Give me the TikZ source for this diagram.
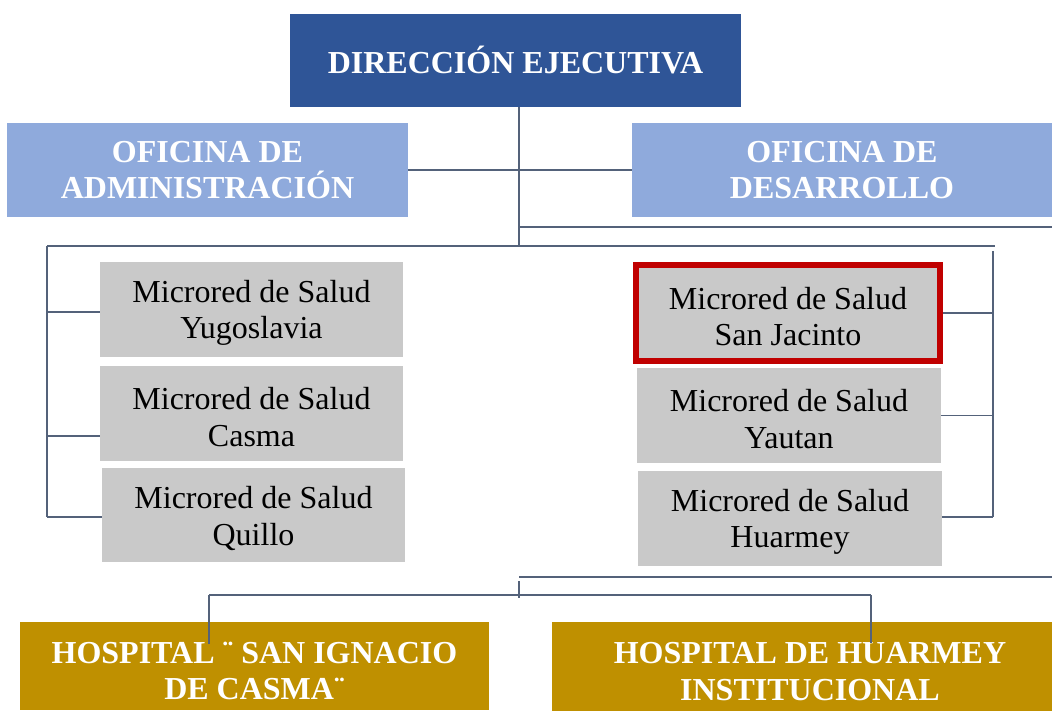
\documentclass[tikz,border=0pt]{standalone}
\usepackage{fontspec}
\setmainfont{Liberation Serif}
\definecolor{dirblue}{RGB}{47,85,151}
\definecolor{offblue}{RGB}{143,170,220}
\definecolor{mgrey}{RGB}{201,201,201}
\definecolor{mred}{RGB}{192,0,0}
\definecolor{hgold}{RGB}{191,144,0}
\definecolor{lnc}{RGB}{84,98,122}
\newcommand\mystrutA{\rule{0pt}{29pt}}
\newcommand\mystrutB{\rule{0pt}{31pt}}
\begin{document}
\begin{tikzpicture}[x=1pt,y=-1pt,
  box/.style={inner sep=0pt,align=center,font=\fontsize{32}{36.5}\selectfont},
  dirbox/.style={box,fill=dirblue,text=white,font=\fontsize{32}{36.5}\selectfont\bfseries},
  offbox/.style={box,fill=offblue,text=white,font=\fontsize{32}{36.5}\selectfont\bfseries},
  mbox/.style={box,fill=mgrey,text=black,minimum width=303pt,minimum height=95pt},
  redbox/.style={mbox,draw=mred,line width=6pt,minimum width=304pt,minimum height=96pt},
  hbox/.style={box,fill=hgold,text=white,font=\fontsize{32}{36.5}\selectfont\bfseries},
  conn/.style={draw=lnc,line width=1.8pt},
  thin/.style={draw=lnc,line width=1.2pt}]
\useasboundingbox (0,0) rectangle (1052,711);
% nodes
\node[dirbox,minimum width=451pt,minimum height=93pt] (dir) at (515.5,60.5) {DIRECCIÓN EJECUTIVA};
\node[offbox,minimum width=401pt,minimum height=94pt] (ofa) at (207.5,170) {OFICINA DE\\ADMINISTRACIÓN};
\node[offbox,minimum width=420pt,minimum height=94pt] (ofd) at (842,170) {OFICINA DE\\DESARROLLO};
\node[mbox] (m1) at (251.5,309.5) {\mystrutA Microred de Salud\\Yugoslavia};
\node[mbox] (m2) at (251.5,413.5) {\mystrutA Microred de Salud\\Casma};
\node[mbox,minimum height=94pt] (m3) at (253.5,515) {\mystrutA Microred de Salud\\Quillo};
\node[redbox] (m4) at (788,313) {\mystrutA Microred de Salud\\San Jacinto};
\node[mbox,minimum width=304pt] (m5) at (789,415.5) {\mystrutA Microred de Salud\\Yautan};
\node[mbox,minimum width=304pt] (m6) at (790,518.5) {\mystrutA Microred de Salud\\Huarmey};
\node[hbox,minimum width=469pt,minimum height=88pt] (h1) at (254.5,666) {\mystrutB HOSPITAL ¨ SAN IGNACIO\\DE CASMA¨};
\node[hbox,minimum width=516pt,minimum height=89pt] (h2) at (810,666.5) {\mystrutB HOSPITAL DE HUARMEY\\INSTITUCIONAL};
% junction coordinates
\coordinate (j1) at (519,246);
\coordinate (jl) at (47,246);
\coordinate (jr) at (995,246);
\coordinate (r1) at (993,251);
\coordinate (r2) at (993,517);
\coordinate (l2) at (47,517);
\coordinate (a1) at (519,227);
\coordinate (a2) at (1052,227);
\coordinate (b1) at (519,577);
\coordinate (b2) at (1052,577);
\coordinate (c1) at (519,581);
\coordinate (c2) at (519,598);
\coordinate (hl) at (209,595);
\coordinate (hr) at (871,595);
% connectors
\draw[conn] (dir.south -| j1) -- (j1);
\draw[conn] (ofa.east) -- (ofd.west);
\draw[conn] (a1) -- (a2);
\draw[conn] (jl) -- (jr);
\draw[conn] (jl) -- (l2);
\draw[conn] (47,312) -- (m1.west |- 0,312);
\draw[conn] (47,436) -- (m2.west |- 0,436);
\draw[conn] (l2) -- (m3.west |- l2);
\draw[conn] (r1) -- (r2);
\draw[conn] (m4.east) -- (m4.east -| r1);
\draw[conn] (m5.east) -- (m5.east -| r1);
\draw[conn] (m6.east |- r2) -- (r2);
\draw[conn] (b1) -- (b2);
\draw[thin] (c1) -- (c2);
\draw[thin] (hl) -- (hr);
\draw[thin] (hl) -- (209,644);
\draw[thin] (hr) -- (871,643);
\end{tikzpicture}
\end{document}
